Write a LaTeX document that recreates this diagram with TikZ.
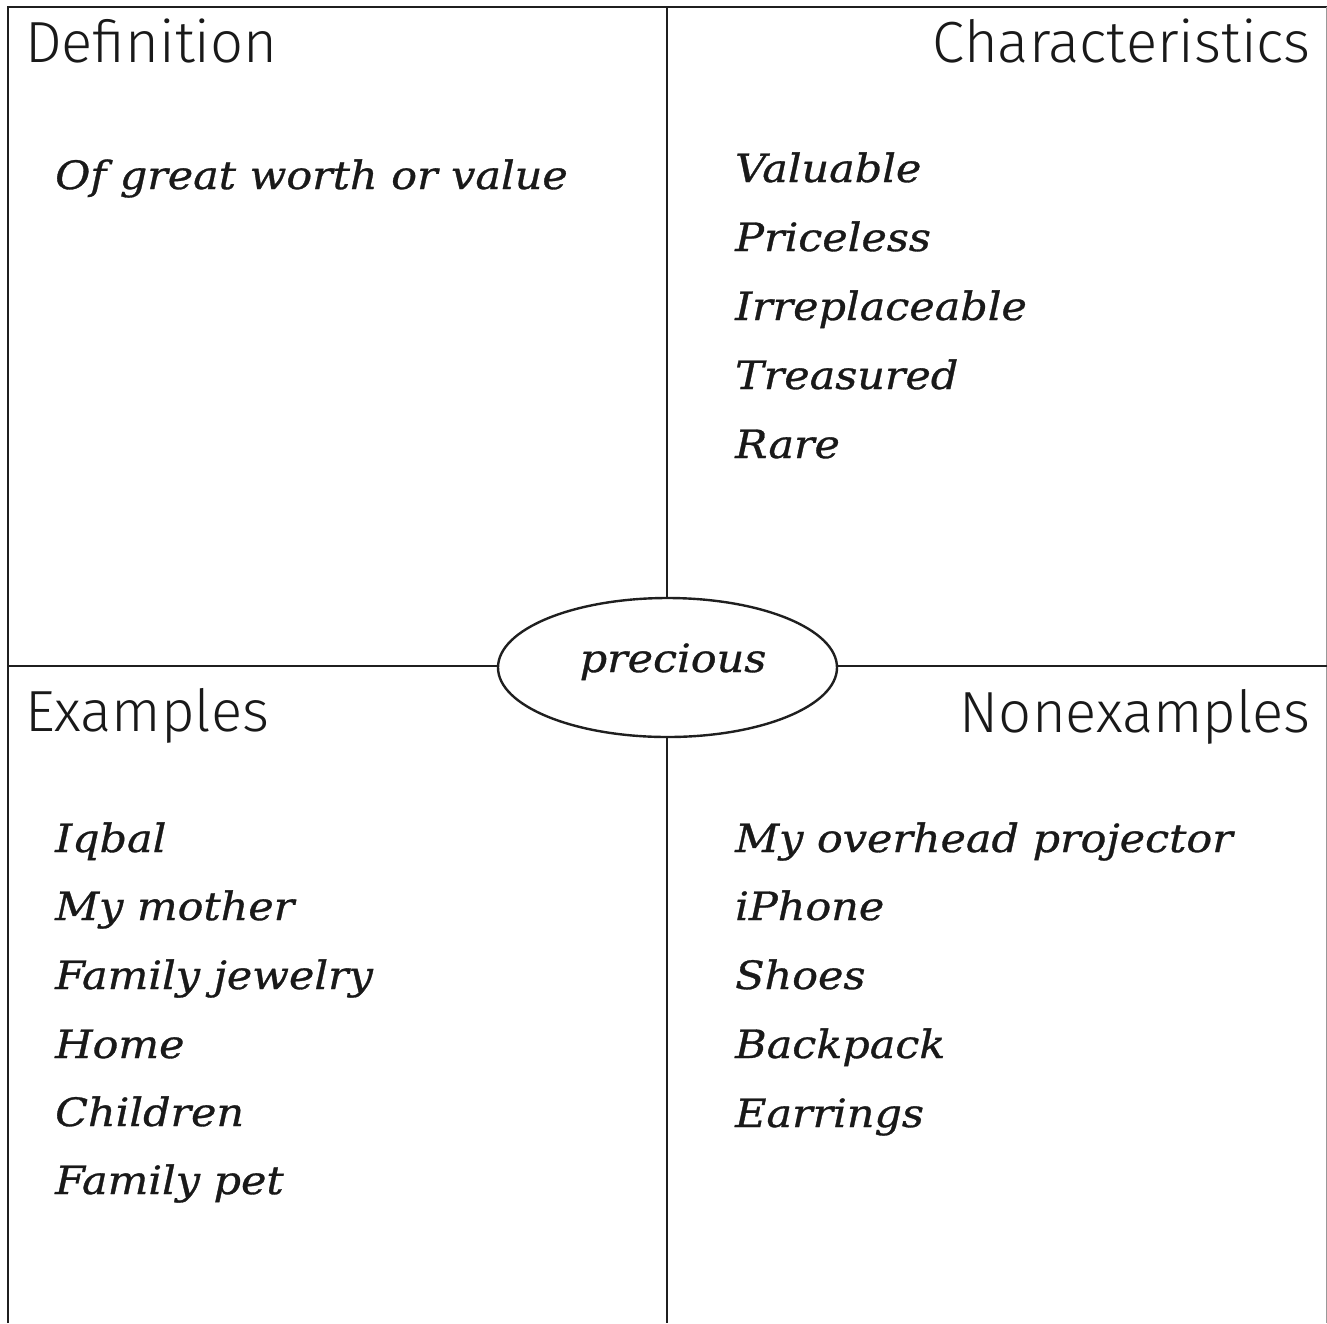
\documentclass[tikz,border=0pt]{standalone}
\usepackage{fontspec}
\newfontfamily\headfont{Fira Sans Light}
\newfontfamily\handfont{DejaVu Serif}[FakeStretch=1.1, FakeBold=0.8]
\usetikzlibrary{shapes.geometric}
\begin{document}
\begin{tikzpicture}[x=1pt,y=-1pt,
  frame/.style={line width=2.4pt, draw=black!88},
  head/.style={inner sep=0pt, font=\headfont\fontsize{58}{60}\selectfont, text=black!90},
  hand/.style={inner sep=0pt, anchor=base west, font=\handfont\itshape\fontsize{39}{42}\selectfont, text=black!90},
  center/.style={ellipse, draw=black!88, line width=2.4pt, minimum width=339pt, minimum height=139pt, inner sep=0pt}]
\useasboundingbox (0,0) rectangle (1327,1323);
\fill[white] (0,0) rectangle (1327,1323);
% center
\node[center] (c) at (667.5,667.5) {};
\node[hand, anchor=base] (ct) at (673,672) {precious};
% frame
\coordinate (tl) at (8,7);
\coordinate (tr) at (1327,7);
\coordinate (bl) at (8,1323);
\coordinate (tm) at (667,7);
\coordinate (bm) at (667,1323);
\coordinate (ml) at (8,666);
\coordinate (mr) at (1327,666);
\draw[frame] (bl) -- (tl) -- (tr);
\draw[line width=1pt, draw=black!40] (1326.5,7) -- (1326.5,1323);
\draw[frame] (tm) -- (tm |- c.north);
\draw[frame] (bm |- c.south) -- (bm);
\draw[frame] (ml) -- (c.west |- ml);
\draw[frame] (c.east |- mr) -- (mr);
% headers
\node[head, anchor=base west] (hdef) at (25,62) {Definition};
\node[head, anchor=base east] (hchar) at (1311,62) {Characteristics};
\node[head, anchor=base west] (hex) at (25,731) {Examples};
\node[head, anchor=base east] (hnon) at (1311,732) {Nonexamples};
% definition
\node[hand] (d1) at (55,189) {Of great worth or value};
% characteristics
\node[hand] (c1) at (735,182) {Valuable};
\node[hand] (c2) at (735,251) {Priceless};
\node[hand] (c3) at (735,320) {Irreplaceable};
\node[hand] (c4) at (735,389) {Treasured};
\node[hand] (c5) at (735,458) {Rare};
% examples
\node[hand] (e1) at (55,852) {Iqbal};
\node[hand] (e2) at (55,920) {My mother};
\node[hand] (e3) at (55,989) {Family jewelry};
\node[hand] (e4) at (55,1058) {Home};
\node[hand] (e5) at (55,1126) {Children};
\node[hand] (e6) at (55,1194) {Family pet};
% nonexamples
\node[hand] (n1) at (735,852) {My overhead projector};
\node[hand] (n2) at (735,920) {iPhone};
\node[hand] (n3) at (735,989) {Shoes};
\node[hand] (n4) at (735,1058) {Backpack};
\node[hand] (n5) at (735,1127) {Earrings};
\end{tikzpicture}
\end{document}
